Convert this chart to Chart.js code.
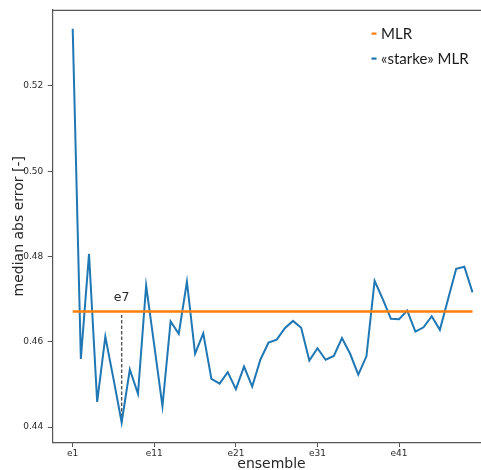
<!DOCTYPE html>
<html>
<head>
<meta charset="utf-8">
<script src="https://cdn.jsdelivr.net/npm/chart.js@4/dist/chart.umd.min.js"></script>
<style>
  html, body { margin: 0; padding: 0; background: #ffffff; overflow: hidden; }
  #wrap { width: 481px; height: 470px; }
</style>
</head>
<body>
<div id="wrap"><canvas id="c" width="481" height="470"></canvas></div>
<script>
// Ensemble members e1 … e50
const categories = [
  'e1','e2','e3','e4','e5','e6','e7','e8','e9','e10',
  'e11','e12','e13','e14','e15','e16','e17','e18','e19','e20',
  'e21','e22','e23','e24','e25','e26','e27','e28','e29','e30',
  'e31','e32','e33','e34','e35','e36','e37','e38','e39','e40',
  'e41','e42','e43','e44','e45','e46','e47','e48','e49','e50'
];

// median absolute error of the «starke» MLR per ensemble member
const starkeMlr = [
  0.5334, 0.4560, 0.4806, 0.4459, 0.4612, 0.4513, 0.4411, 0.4535, 0.4478, 0.4732,
  0.4591, 0.4449, 0.4648, 0.4619, 0.4741, 0.4572, 0.4620, 0.4513, 0.4502, 0.4529,
  0.4489, 0.4542, 0.4495, 0.4558, 0.4598, 0.4605, 0.4632, 0.4649, 0.4633, 0.4556,
  0.4585, 0.4558, 0.4567, 0.4609, 0.4572, 0.4523, 0.4566, 0.4743, 0.4700, 0.4654,
  0.4653, 0.4673, 0.4624, 0.4634, 0.4660, 0.4628, 0.4700, 0.4771, 0.4776, 0.4716
];

// reference MLR (single value, drawn across all members)
const mlrValue = 0.4671;

// highlighted member and the top of its marker line
const highlightIndex = 6;          // e7
const highlightTop = 0.4663;

// axis ticks
const xTickIndices = [0, 10, 20, 30, 40];
const yTicks = [0.44, 0.46, 0.48, 0.50, 0.52];

const legendItems = [
  { label: 'MLR', color: '#ff7f0e' },
  { label: '«starke» MLR', color: '#1f77b4' }
];

Chart.defaults.font.family = "'DejaVu Sans', sans-serif";

const overlay = {
  id: 'overlay',
  afterDraw(chart) {
    const ctx = chart.ctx;
    const a = chart.chartArea;
    const xs = chart.scales.x, ys = chart.scales.y;
    ctx.save();

    // top frame line
    ctx.strokeStyle = '#555555';
    ctx.lineWidth = 1.2;
    ctx.beginPath();
    ctx.moveTo(a.left, a.top + 0.5);
    ctx.lineTo(chart.width, a.top + 0.5);
    ctx.stroke();

    // axis titles
    ctx.fillStyle = '#262626';
    ctx.font = "14px 'DejaVu Sans'";
    ctx.textAlign = 'center';
    ctx.textBaseline = 'alphabetic';
    ctx.fillText('ensemble', 271.5, 468);

    ctx.save();
    ctx.translate(23, (a.top + a.bottom) / 2);
    ctx.rotate(-Math.PI / 2);
    ctx.textBaseline = 'alphabetic';
    ctx.fillText('median abs error [-]', 0, 0);
    ctx.restore();

    // label of the highlighted member
    ctx.font = "12.5px 'DejaVu Sans'";
    ctx.fillStyle = '#2a2a2a';
    ctx.textAlign = 'center';
    ctx.textBaseline = 'alphabetic';
    ctx.fillText(categories[highlightIndex], xs.getPixelForValue(highlightIndex), ys.getPixelForValue(highlightTop) - 14);

    // legend
    ctx.font = "15px Lato";
    ctx.textAlign = 'left';
    legendItems.forEach((it, i) => {
      const cy = 33.5 + i * 25;
      ctx.fillStyle = it.color;
      ctx.fillRect(371.5, cy - 1, 5, 2.2);
      ctx.fillStyle = '#1a1a1a';
      ctx.textBaseline = 'middle';
      ctx.fillText(it.label, 381, cy + 0.5);
    });
    ctx.restore();
  }
};

new Chart(document.getElementById('c'), {
  type: 'line',
  data: {
    datasets: [
      {
        label: 'MLR',
        data: [{ x: 0, y: mlrValue }, { x: categories.length - 1, y: mlrValue }],
        borderColor: '#ff7f0e',
        borderWidth: 2.6,
        pointRadius: 0,
        order: 0
      },
      {
        label: '«starke» MLR',
        data: starkeMlr.map((v, i) => ({ x: i, y: v })),
        borderColor: '#1f77b4',
        borderWidth: 2,
        pointRadius: 0,
        tension: 0,
        order: 1
      },
      {
        label: 'marker',
        data: [{ x: highlightIndex, y: starkeMlr[highlightIndex] }, { x: highlightIndex, y: highlightTop }],
        borderColor: '#555555',
        borderWidth: 1.4,
        borderDash: [3.5, 2],
        pointRadius: 0,
        order: 2
      }
    ]
  },
  options: {
    responsive: false,
    animation: false,
    events: [],
    layout: { padding: { top: 9, right: 0, left: 0, bottom: 0 } },
    plugins: { legend: { display: false }, tooltip: { enabled: false } },
    scales: {
      x: {
        type: 'linear',
        min: -2.5,
        max: 50.04,
        afterFit: s => { s.height = 27.5; },
        afterBuildTicks: s => { s.ticks = xTickIndices.map(v => ({ value: v })); },
        ticks: {
          callback: v => categories[v],
          font: { size: 9 },
          color: '#2a2a2a',
          padding: 1,
          maxRotation: 0,
          autoSkip: false
        },
        grid: { drawOnChartArea: false, drawTicks: true, tickLength: 4.5, color: '#555555', tickWidth: 1 },
        border: { display: true, color: '#555555', width: 1.2 }
      },
      y: {
        min: 0.4364,
        max: 0.5378,
        afterFit: s => { s.width = 52.3; },
        afterBuildTicks: s => { s.ticks = yTicks.map(v => ({ value: v })); },
        ticks: {
          callback: v => v.toFixed(2),
          font: { size: 9 },
          color: '#2a2a2a',
          padding: 4.5
        },
        grid: { drawOnChartArea: false, drawTicks: true, tickLength: 4.5, color: '#555555', tickWidth: 1 },
        border: { display: true, color: '#555555', width: 1.2 }
      }
    }
  },
  plugins: [overlay]
});
</script>
</body>
</html>
